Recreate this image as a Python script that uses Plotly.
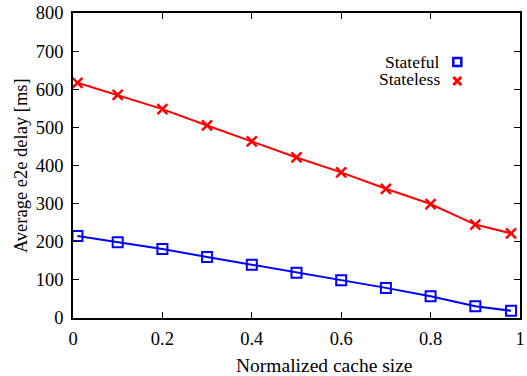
import plotly.graph_objects as go

cache_size = [0.01, 0.1, 0.2, 0.3, 0.4, 0.5, 0.6, 0.7, 0.8, 0.9, 0.98]
stateful = [215, 199, 181, 160, 140, 119, 99, 79, 57, 31, 19]
stateless = [617, 585, 548, 505, 463, 421, 382, 339, 299, 245, 222]
series_names = ["Stateful", "Stateless"]
x_ticks = [0, 0.2, 0.4, 0.6, 0.8, 1]
x_tick_labels = ["0", "0.2", "0.4", "0.6", "0.8", "1"]
y_ticks = [0, 100, 200, 300, 400, 500, 600, 700, 800]
x_title = "Normalized cache size"
y_title = "Average e2e delay [ms]"

FONT = "Liberation Serif, Times New Roman, DejaVu Serif, serif"
BLUE = "#0000ff"
RED = "#ff0000"

fig = go.Figure()
fig.add_trace(go.Scatter(
    x=cache_size, y=stateful, mode="lines+markers", showlegend=False,
    line=dict(color=BLUE, width=2),
    marker=dict(symbol="square-open", size=10, color=BLUE, line=dict(width=2, color=BLUE)),
))
fig.add_trace(go.Scatter(
    x=cache_size, y=stateless, mode="lines+markers", showlegend=False,
    line=dict(color=RED, width=2),
    marker=dict(symbol="x-thin-open", size=10, color=RED, line=dict(width=2.5, color=RED)),
))
# legend entries: markers only (text drawn as annotations to the left)
fig.add_trace(go.Scatter(
    x=[None], y=[None], mode="markers", name=" ",
    marker=dict(symbol="square-open", size=8, color=BLUE, line=dict(width=2.5, color=BLUE)),
))
fig.add_trace(go.Scatter(
    x=[None], y=[None], mode="markers", name=" ",
    marker=dict(symbol="x-thin-open", size=8, color=RED, line=dict(width=3, color=RED)),
))

axis_common = dict(
    showgrid=False, zeroline=False, showline=True, linecolor="black", linewidth=1.5,
    mirror="ticks", ticks="inside", ticklen=6, tickwidth=1, tickcolor="black",
    tickfont=dict(family=FONT, size=18.5, color="black"), automargin=False,
)

fig.update_layout(
    width=527, height=376,
    margin=dict(l=73, r=7, t=13, b=58),
    paper_bgcolor="white", plot_bgcolor="white",
    font=dict(family=FONT, size=17, color="black"),
    xaxis=dict(range=[0, 1], tickvals=x_ticks, ticktext=x_tick_labels,
               ticklabelstandoff=3, **axis_common),
    yaxis=dict(range=[0, 800], tickvals=y_ticks, ticklabelstandoff=4, **axis_common),
    legend=dict(x=0.815, y=0.887, xanchor="left", yanchor="top", bgcolor="rgba(0,0,0,0)",
                font=dict(family=FONT, size=12), itemwidth=30, tracegroupgap=0),
    annotations=[
        dict(text=x_title, xref="paper", yref="paper", x=0.5615, y=-0.157,
             xanchor="center", yanchor="middle", showarrow=False, font=dict(family=FONT, size=19.5)),
        dict(text=y_title, xref="paper", yref="paper", x=-0.1163, y=0.498, textangle=-90,
             xanchor="center", yanchor="middle", showarrow=False, font=dict(family=FONT, size=18.5)),
        dict(text=series_names[0], xref="paper", yref="paper", x=0.825, y=0.8426, height=17,
             xanchor="right", yanchor="middle", showarrow=False, font=dict(family=FONT, size=17.5)),
        dict(text=series_names[1], xref="paper", yref="paper", x=0.825, y=0.7852, height=17,
             xanchor="right", yanchor="middle", showarrow=False, font=dict(family=FONT, size=17.5)),
    ],
)

fig.write_html("out.html", config={"displayModeBar": False},
               post_script="document.body.style.margin='0';document.body.style.padding='0';")
